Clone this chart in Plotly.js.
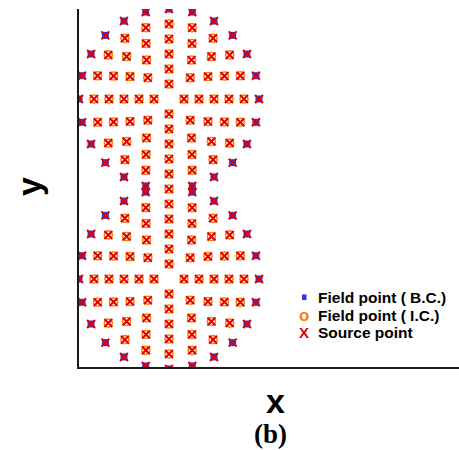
<!DOCTYPE html>
<html>
<head>
<meta charset="utf-8">
<script src="https://cdn.plot.ly/plotly-3.0.1.min.js"></script>
<style>
  html, body { margin: 0; padding: 0; background: #fff; }
  #plot { width: 459px; height: 450px; }
</style>
</head>
<body>
<div id="plot"></div>
<script>
// Domain: two tangent unit discs stacked vertically, each discretised
// on a polar grid of concentric rings (no node at the disc centre).
const discCenterX = [0, 0];
const discCenterY = [1, -1];
const ringRadius = [0.1667, 0.3333, 0.5, 0.6667, 0.8333, 1.0];
const ringPointCount = [4, 8, 12, 16, 20, 24];
const seriesNames = ["Field point ( B.C.)", "Field point ( I.C.)", "Source point"];
const seriesColors = ["#3232e6", "#ff8000", "#dd0000"];
const axisTitles = ["x", "y"];
const panelLabel = "(b)";

// Collect the nodes; a node shared by both outer rings (the tangent point)
// lies inside the union and is therefore an interior node.
const nodes = new Map();
for (let d = 0; d < discCenterX.length; d++) {
  for (let k = 0; k < ringRadius.length; k++) {
    const n = ringPointCount[k], r = ringRadius[k];
    const outer = k === ringRadius.length - 1;
    for (let j = 0; j < n; j++) {
      const a = 2 * Math.PI * j / n;
      const x = discCenterX[d] + r * Math.sin(a);
      const y = discCenterY[d] + r * Math.cos(a);
      const key = Math.round(x * 1e4) + "," + Math.round(y * 1e4);
      if (nodes.has(key)) { nodes.get(key).shared = true; continue; }
      nodes.set(key, { x: x, y: y, outer: outer, shared: false });
    }
  }
}
const bcX = [], bcY = [], icX = [], icY = [], srcX = [], srcY = [];
nodes.forEach(p => {
  if (p.outer && !p.shared) { bcX.push(p.x); bcY.push(p.y); }
  else { icX.push(p.x); icY.push(p.y); }
  srcX.push(p.x); srcY.push(p.y);
});

const traces = [
  { x: bcX, y: bcY, name: seriesNames[0], type: "scatter", mode: "markers",
    marker: { symbol: "square", size: 7, color: seriesColors[0] } },
  { x: icX, y: icY, name: seriesNames[1], type: "scatter", mode: "markers",
    marker: { symbol: "circle-open", size: 8, color: seriesColors[1],
              line: { width: 1.6, color: seriesColors[1] } } },
  { x: srcX, y: srcY, name: seriesNames[2], type: "scatter", mode: "markers",
    marker: { symbol: "x-thin-open", size: 8, color: seriesColors[2],
              line: { width: 2, color: seriesColors[2] } } }
];

// Page geometry (pixels)
const W = 459, H = 450;
const M = { l: 79, r: 0, t: 9, b: 83 };
const PW = W - M.l - M.r, PH = H - M.t - M.b;
const px = X => (X - M.l) / PW;
const py = Y => (H - M.b - Y) / PH;

const sans = "Liberation Sans, Arial, sans-serif";
const serif = "Liberation Serif, Times New Roman, serif";

const annotations = [
  { text: "<b>" + axisTitles[0] + "</b>", x: px(275), y: py(401), xref: "paper", yref: "paper",
    xanchor: "center", yanchor: "middle", showarrow: false,
    font: { family: sans, size: 34, color: "#000" } },
  { text: "<b>" + axisTitles[1] + "</b>", x: px(29), y: py(187), xref: "paper", yref: "paper",
    xanchor: "center", yanchor: "middle", showarrow: false, textangle: -90,
    font: { family: sans, size: 34, color: "#000" } },
  { text: "<b>" + panelLabel + "</b>", x: px(270), y: py(434), xref: "paper", yref: "paper",
    xanchor: "center", yanchor: "middle", showarrow: false,
    font: { family: serif, size: 27, color: "#000" } }
];

// Legend block
const legendRows = [297, 315, 332];
const legendGlyphs = ["", "<b>o</b>", "<b>X</b>"];
const legendGlyphSize = [0, 17, 15];
for (let i = 0; i < 3; i++) {
  annotations.push({ text: "<b>" + seriesNames[i] + "</b>", x: px(316), y: py(legendRows[i]),
    xref: "paper", yref: "paper", xanchor: "left", yanchor: "middle", showarrow: false,
    font: { family: sans, size: 15.5, color: "#000" } });
  if (legendGlyphs[i]) {
    annotations.push({ text: legendGlyphs[i], x: px(304), y: py(legendRows[i]),
      xref: "paper", yref: "paper", xanchor: "center", yanchor: "middle", showarrow: false,
      font: { family: sans, size: legendGlyphSize[i], color: seriesColors[i] } });
  }
}
const shapes = [
  { type: "rect", xref: "paper", yref: "paper",
    x0: px(302), x1: px(306.5), y0: py(300), y1: py(294.5),
    fillcolor: seriesColors[0], line: { width: 0 } }
];

const axisCommon = {
  showgrid: false, zeroline: false, showticklabels: false, ticks: "",
  showline: true, linewidth: 2, linecolor: "#1a1a1a", mirror: false, fixedrange: true
};

const layout = {
  width: W, height: H,
  margin: { l: M.l, r: M.r, t: M.t, b: M.b, pad: 0 },
  paper_bgcolor: "#fff", plot_bgcolor: "#fff",
  showlegend: false,
  xaxis: Object.assign({ range: [-1, -1 + PW / 90] }, axisCommon),
  yaxis: Object.assign({ range: [2 - PH / 90, 2] }, axisCommon),
  annotations: annotations,
  shapes: shapes
};

Plotly.newPlot("plot", traces, layout, { staticPlot: true, displayModeBar: false });
</script>
</body>
</html>
